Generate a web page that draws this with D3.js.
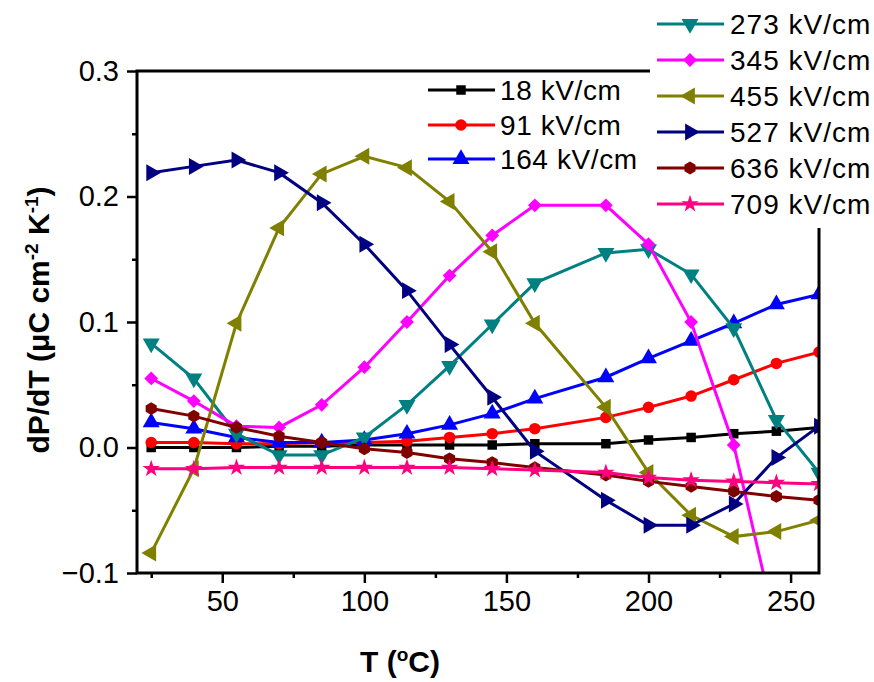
<!DOCTYPE html>
<html>
<head>
<meta charset="utf-8">
<script src="https://cdn.jsdelivr.net/npm/d3@7"></script>
<style>
  body { margin: 0; background: #fff; }
  svg { display: block; font-family: Arial, "Liberation Sans", sans-serif; }
</style>
</head>
<body>
<svg id="chart" width="874" height="682"></svg>
<script>
// temperatures (C)
var temps = [25, 40, 55, 70, 85, 100, 115, 130, 145, 160, 185, 200, 215, 230, 245, 260];

var fields = ["18 kV/cm", "91 kV/cm", "164 kV/cm", "273 kV/cm", "345 kV/cm",
              "455 kV/cm", "527 kV/cm", "636 kV/cm", "709 kV/cm"];

var s18  = [0.000, 0.000, 0.000, 0.001, 0.001, 0.002, 0.002, 0.002, 0.002, 0.003, 0.003, 0.006, 0.008, 0.011, 0.013, 0.016];
var s91  = [0.004, 0.004, 0.003, 0.003, 0.004, 0.004, 0.005, 0.008, 0.011, 0.015, 0.024, 0.032, 0.041, 0.054, 0.067, 0.076];
var s164 = [0.020, 0.015, 0.008, 0.004, 0.004, 0.006, 0.011, 0.018, 0.027, 0.039, 0.056, 0.071, 0.085, 0.099, 0.114, 0.122];
var s273 = [0.083, 0.055, 0.011, -0.006, -0.006, 0.008, 0.034, 0.065, 0.098, 0.131, 0.155, 0.158, 0.138, 0.095, 0.022, -0.020];
var s345 = [0.055, 0.037, 0.017, 0.016, 0.034, 0.064, 0.100, 0.137, 0.169, 0.193, 0.193, 0.162, 0.100, 0.002, -0.145, -0.200];
var s455 = [-0.084, -0.017, 0.099, 0.175, 0.218, 0.232, 0.223, 0.196, 0.156, 0.099, 0.032, -0.020, -0.054, -0.071, -0.067, -0.058];
var s527 = [0.219, 0.224, 0.229, 0.219, 0.195, 0.162, 0.125, 0.082, 0.040, -0.003, -0.042, -0.062, -0.062, -0.045, -0.008, 0.017];
var s636 = [0.031, 0.025, 0.016, 0.009, 0.004, -0.001, -0.004, -0.009, -0.012, -0.016, -0.022, -0.027, -0.031, -0.035, -0.039, -0.042];
var s709 = [-0.017, -0.017, -0.016, -0.016, -0.016, -0.016, -0.016, -0.016, -0.017, -0.018, -0.020, -0.024, -0.026, -0.027, -0.028, -0.029];

var xTicks = [50, 100, 150, 200, 250];
var xMinorTicks = [25, 75, 125, 175, 225];
var yTicks = [-0.1, 0.0, 0.1, 0.2, 0.3];
var yMinorTicks = [-0.05, 0.05, 0.15, 0.25];

var seriesValues = [s18, s91, s164, s273, s345, s455, s527, s636, s709];
var colors = ["#000000", "#ff0000", "#0000ff", "#008080", "#ff00ff", "#808000", "#000080", "#800000", "#ff0080"];
var shapes = ["square", "circle", "up", "down", "diamond", "left", "right", "hex", "star"];

var svg = d3.select("#chart");
var pLeft = 137, pRight = 819, pTop = 71, pBottom = 573;

var x = d3.scaleLinear().domain([20, 260]).range([pLeft, pRight]);
var y = d3.scaleLinear().domain([-0.1, 0.3]).range([pBottom, pTop]);

// marker paths
function markerPath(shape) {
    var tri = d3.symbol().type(d3.symbolTriangle).size(125)();
    if (shape == "square") return { d: d3.symbol().type(d3.symbolSquare).size(90)(), r: 0 };
    if (shape == "circle") return { d: d3.symbol().type(d3.symbolCircle).size(105)(), r: 0 };
    if (shape == "up") return { d: tri, r: 0 };
    if (shape == "down") return { d: tri, r: 180 };
    if (shape == "left") return { d: tri, r: -90 };
    if (shape == "right") return { d: tri, r: 90 };
    if (shape == "diamond") return { d: d3.symbol().type(d3.symbolSquare).size(95)(), r: 45 };
    if (shape == "star") return { d: d3.symbol().type(d3.symbolStar).size(95)(), r: 0 };
    // hexagon
    var pts = [];
    for (var k = 0; k < 6; k++) {
        var a = Math.PI / 6 + k * Math.PI / 3;
        pts.push([6.4 * Math.cos(a), 6.4 * Math.sin(a)]);
    }
    return { d: "M" + pts.join("L") + "Z", r: 0 };
}

svg.append("defs").append("clipPath").attr("id", "plotclip")
  .append("rect")
  .attr("x", pLeft).attr("y", pTop)
  .attr("width", pRight - pLeft).attr("height", pBottom - pTop);

var plot = svg.append("g").attr("clip-path", "url(#plotclip)");

var line = d3.line()
  .x(function(d) { return x(d[0]); })
  .y(function(d) { return y(d[1]); });

for (var i = 0; i < seriesValues.length; i++) {
    var pts = temps.map(function(t, j) { return [t, seriesValues[i][j]]; });
    var g = plot.append("g");
    g.append("path")
      .attr("d", line(pts))
      .attr("fill", "none")
      .attr("stroke", colors[i])
      .attr("stroke-width", 3);
    var m = markerPath(shapes[i]);
    g.selectAll("path.pt")
      .data(pts)
      .enter()
      .append("path")
      .attr("class", "pt")
      .attr("d", m.d)
      .attr("fill", colors[i])
      .attr("transform", function(d) {
          return "translate(" + x(d[0]) + "," + y(d[1]) + ") rotate(" + m.r + ")";
      });
}

// axes
var xAxis = d3.axisBottom(x).tickValues(xTicks).tickSize(10).tickPadding(7).tickFormat(d3.format("d"));
var xMinor = d3.axisBottom(x).tickValues(xMinorTicks).tickSize(5).tickFormat("");
var yAxis = d3.axisLeft(y).tickValues(yTicks).tickSize(10).tickPadding(8).tickFormat(d3.format(".1f"));
var yMinor = d3.axisLeft(y).tickValues(yMinorTicks).tickSize(5).tickFormat("");

function styleAxis(sel) {
    sel.select(".domain").remove();
    sel.selectAll("line").attr("stroke", "#000").attr("stroke-width", 2.5);
    sel.selectAll("text").attr("font-size", "29px").attr("fill", "#000")
      .attr("font-family", "Arial, 'Liberation Sans', sans-serif");
}

svg.append("g").attr("transform", "translate(0," + pBottom + ")").call(xAxis).call(styleAxis);
svg.append("g").attr("transform", "translate(0," + pBottom + ")").call(xMinor).call(styleAxis);
svg.append("g").attr("transform", "translate(" + pLeft + ",0)").call(yAxis).call(styleAxis);
svg.append("g").attr("transform", "translate(" + pLeft + ",0)").call(yMinor).call(styleAxis);

// frame
svg.append("rect")
  .attr("x", pLeft).attr("y", pTop)
  .attr("width", pRight - pLeft).attr("height", pBottom - pTop)
  .attr("fill", "none").attr("stroke", "#000").attr("stroke-width", 3);

// axis titles
svg.append("text")
  .attr("x", 400).attr("y", 672)
  .attr("text-anchor", "middle")
  .attr("font-size", "30px").attr("font-weight", "bold")
  .html('T (<tspan dy="-11" font-size="19px">o</tspan><tspan dy="11">C)</tspan>');

svg.append("text")
  .attr("transform", "translate(49,320) rotate(-90)")
  .attr("text-anchor", "middle")
  .attr("font-size", "30px").attr("font-weight", "bold")
  .html('dP/dT (\u03bcC cm<tspan dy="-11" font-size="19px">-2</tspan><tspan dy="11"> K</tspan><tspan dy="-11" font-size="19px">-1</tspan><tspan dy="11">)</tspan>');

// legend 1 (inside plot)
var leg1 = svg.append("g");
var leg1Y = [90, 125, 159];
for (var a = 0; a < 3; a++) {
    var row = leg1.append("g").attr("transform", "translate(428," + leg1Y[a] + ")");
    row.append("line").attr("x1", 0).attr("x2", 67)
      .attr("stroke", colors[a]).attr("stroke-width", 3);
    var mk = markerPath(shapes[a]);
    row.append("path").attr("d", mk.d).attr("fill", colors[a])
      .attr("transform", "translate(33,0) rotate(" + mk.r + ")");
    row.append("text").attr("x", 72).attr("y", 10)
      .attr("font-size", "28px").attr("letter-spacing", "0.6px").attr("fill", "#000")
      .text(fields[a]);
}

// legend 2 (top right, white box over the frame)
var leg2 = svg.append("g");
leg2.append("rect").attr("x", 650).attr("y", 0).attr("width", 224).attr("height", 228).attr("fill", "#fff");
var leg2Y = [24, 60, 96, 132, 168, 204];
for (var b = 0; b < 6; b++) {
    var k2 = b + 3;
    var row2 = leg2.append("g").attr("transform", "translate(657," + leg2Y[b] + ")");
    row2.append("line").attr("x1", 0).attr("x2", 67)
      .attr("stroke", colors[k2]).attr("stroke-width", 3);
    var mk2 = markerPath(shapes[k2]);
    row2.append("path").attr("d", mk2.d).attr("fill", colors[k2])
      .attr("transform", "translate(33,0) rotate(" + mk2.r + ")");
    row2.append("text").attr("x", 73).attr("y", 10)
      .attr("font-size", "28px").attr("letter-spacing", "1px").attr("fill", "#000")
      .text(fields[k2]);
}
</script>
</body>
</html>
